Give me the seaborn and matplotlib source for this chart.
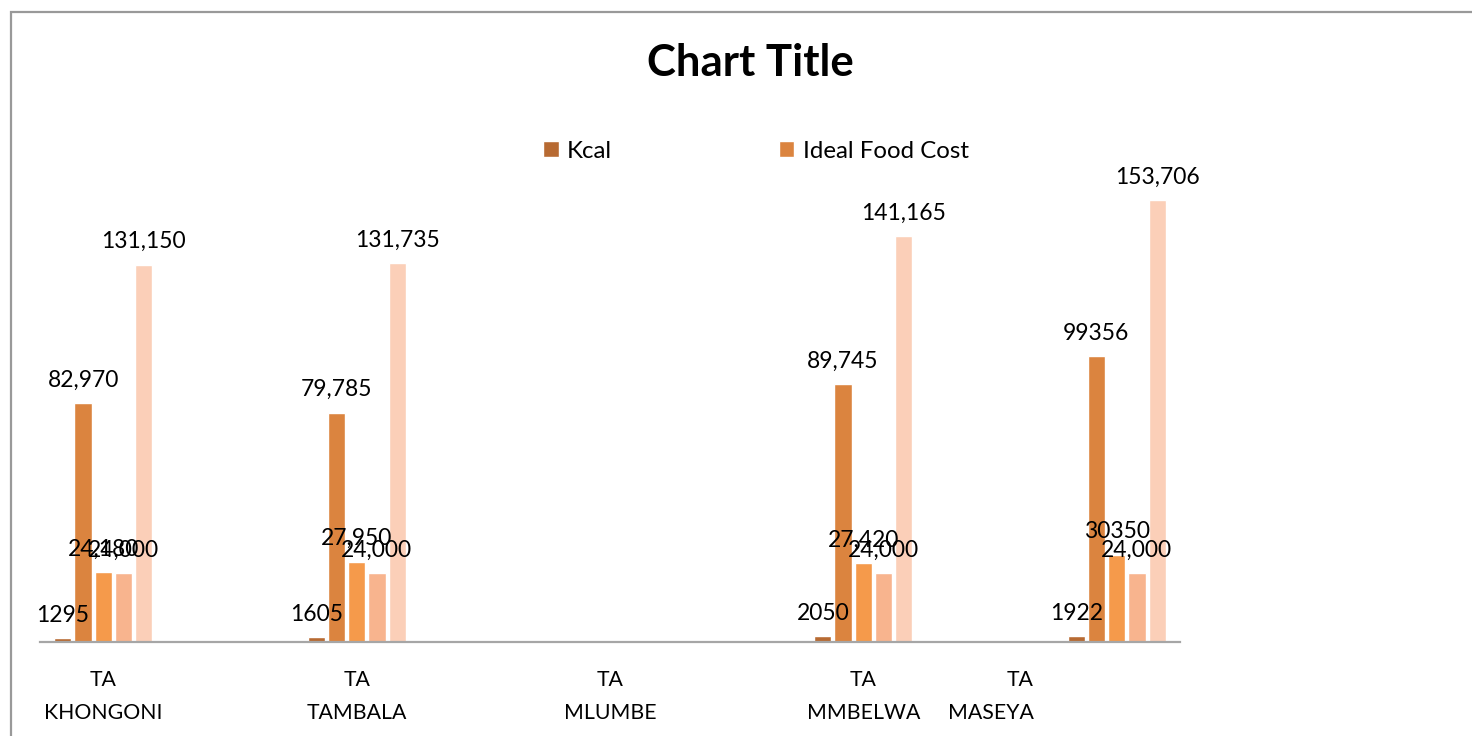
import matplotlib
matplotlib.use("Agg")
import matplotlib.pyplot as plt
import matplotlib.transforms as mtransforms
from matplotlib.patches import Rectangle, Patch
from matplotlib.container import BarContainer
import numpy as np
import pandas as pd
import seaborn as sns

categories = ["TA\nKHONGONI", "TA\nTAMBALA", "TA\nMLUMBE", "TA\nMMBELWA", "TA\nMASEYA"]
series = ["Kcal", "Ideal Food Cost", "Series 3", "Series 4", "Series 5"]
s1 = [1295, 1605, np.nan, 2050, 1922]
s2 = [82970, 79785, np.nan, 89745, 99356]
s3 = [24180, 27950, np.nan, 27420, 30350]
s4 = [24000, 24000, np.nan, 24000, 24000]
s5 = [131150, 131735, np.nan, 141165, 153706]
lab1 = ["1295", "1605", "", "2050", "1922"]
lab2 = ["82,970", "79,785", "", "89,745", "99356"]
lab3 = ["24,180", "27,950", "", "27,420", "30350"]
lab4 = ["24,000", "24,000", "", "24,000", "24,000"]
lab5 = ["131,150", "131,735", "", "141,165", "153,706"]
colors = ["#B76A32", "#DB843F", "#F59A4B", "#F8B48E", "#FBCFB8"]

values = [s1, s2, s3, s4, s5]
labels = [lab1, lab2, lab3, lab4, lab5]
rows = []
for sname, vals in zip(series, values):
    for c, v in zip(categories, vals):
        rows.append({"cat": c, "series": sname, "value": v})
df = pd.DataFrame(rows)

sns.set_theme(style="white")
plt.rcParams["font.family"] = ["Lato", "DejaVu Sans"]
plt.rcParams["text.color"] = "black"
plt.rcParams["xtick.color"] = "black"

fig = plt.figure(figsize=(14.72, 7.36), dpi=100)
ax = fig.add_axes([40 / 1472, 94 / 736, 1140 / 1472, 522 / 736])

sns.barplot(data=df, x="cat", y="value", hue="series", order=categories,
            hue_order=series, palette=colors, width=0.4, gap=0.15,
            errorbar=None, ax=ax, legend=False, saturation=1)

for cont, labs in zip(ax.containers, labels):
    bars, texts = [], []
    for p in cont.patches:
        if p is None or not np.isfinite(p.get_height()):
            continue
        idx = int(round(p.get_x() + p.get_width() / 2))
        if labs[idx]:
            bars.append(p)
            texts.append(labs[idx])
    sub = BarContainer(bars, datavalues=[p.get_height() for p in bars],
                       orientation="vertical")
    ax.bar_label(sub, labels=texts, padding=9, fontsize=16.5, color="black")

ax.set_xlim(-0.25, 4.25)
ax.set_ylim(0, 181500)
ax.set_xlabel("")
ax.set_ylabel("")
ax.set_yticks([])
for sp in ["top", "right", "left"]:
    ax.spines[sp].set_visible(False)
ax.spines["bottom"].set_color("#A6A6A6")
ax.spines["bottom"].set_linewidth(1.6)
ax.tick_params(axis="x", length=0, pad=20, labelsize=15.3, labelcolor="black")
for lbl in ax.get_xticklabels():
    lbl.set_linespacing(1.85)
ticklabels = ax.get_xticklabels()
ticklabels[-1].set_multialignment("right")
ticklabels[-1].set_transform(ticklabels[-1].get_transform() +
                             mtransforms.ScaledTranslation(-1.26, 0, fig.dpi_scale_trans))

fig.text(750 / 1472, 1 - 63 / 736, "Chart Title", ha="center", va="center",
         fontsize=31.5, fontweight="bold", color="black")

handles = [Patch(facecolor=colors[0]), Patch(facecolor=colors[1])]
fig.legend(handles, series[:2], loc="center", bbox_to_anchor=(756 / 1472, 1 - 151 / 736),
           ncol=2, frameon=False, fontsize=17.3, handlelength=0.65, handleheight=0.65,
           handletextpad=0.35, columnspacing=6.93, labelcolor="black")

fig.patches.append(Rectangle((11 / 1472, -0.1), 1.2, 1 - 12 / 736 + 0.1,
                             transform=fig.transFigure, fill=False,
                             edgecolor="#999999", linewidth=1.6))

fig.savefig("out.png", dpi=100)
